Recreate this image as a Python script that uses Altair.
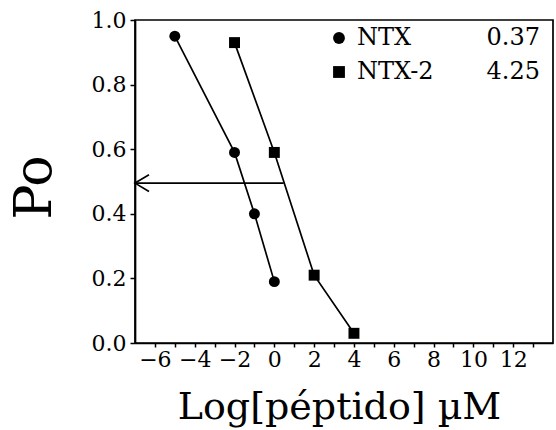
import altair as alt
import pandas as pd

# ---- data ----
ntx_x = [-5, -2, -1, 0]
ntx_po = [0.95, 0.59, 0.40, 0.19]
ntx2_x = [-2, 0, 2, 4]
ntx2_po = [0.93, 0.59, 0.21, 0.03]
series_names = ["NTX", "NTX-2"]
series_kd = ["0.37", "4.25"]
series_shapes = ["circle", "square"]
arrow_x = [0.47, -7]
arrow_po = [0.495, 0.495]
x_ticks = list(range(-6, 14))
y_ticks = [0.0, 0.2, 0.4, 0.6, 0.8, 1.0]

FONT = "DejaVu Serif"

df = pd.DataFrame({
    "x": ntx_x + ntx2_x,
    "po": ntx_po + ntx2_po,
    "series": [series_names[0]] * len(ntx_x) + [series_names[1]] * len(ntx2_x),
})
arrow_df = pd.DataFrame({"x": arrow_x, "po": arrow_po})
tip_df = arrow_df.iloc[[1]]

xscale = alt.Scale(domain=[-7, 14], nice=False, zero=False)
yscale = alt.Scale(domain=[0, 1], nice=False, zero=False)

x_axis = alt.Axis(
    values=x_ticks,
    format="d",
    labelExpr="datum.value % 2 === 0 ? datum.label : ''",
    labelOverlap=False,
    labelFlush=False,
    labelFont=FONT,
    labelFontSize=22,
    tickSize=4,
    labelPadding=2,
    title="Log[péptido] µM",
    titleFont=FONT,
    titleFontSize=38,
    titleFontWeight="normal",
    titleX=204,
    titleY=75,
    titleAlign="center",
    titleBaseline="alphabetic",
)
y_axis = alt.Axis(
    values=y_ticks,
    format=".1f",
    labelFont=FONT,
    labelFontSize=22,
    tickSize=5,
    labelPadding=4,
    title="Po",
    titleFont=FONT,
    titleFontSize=52,
    titleFontWeight="normal",
    titleAngle=270,
    titleX=-85,
    titleY=167,
    titleAlign="center",
    titleBaseline="alphabetic",
)

X = alt.X("x:Q", scale=xscale, axis=x_axis)
Y = alt.Y("po:Q", scale=yscale, axis=y_axis)

lines = alt.Chart(df).mark_line(color="black", strokeWidth=1.7).encode(
    x=X, y=Y, detail="series:N"
)
points = alt.Chart(df).mark_point(filled=True, color="black", size=120, opacity=1).encode(
    x=X, y=Y,
    shape=alt.Shape("series:N", scale=alt.Scale(domain=series_names, range=series_shapes), legend=None),
)
arrow_line = alt.Chart(arrow_df).mark_line(color="black", strokeWidth=1.7).encode(x=X, y=Y)
arrow_head = alt.Chart(tip_df).mark_point(
    shape="M1,-0.6L0,0L1,0.6", filled=False, stroke="black", strokeWidth=1.7, size=784, opacity=1
).encode(x=X, y=Y)

layers = [lines, arrow_line, arrow_head, points]

legend_df = pd.DataFrame({"name": series_names, "kd": series_kd, "shape": series_shapes})
for i, name in enumerate(series_names):
    row = legend_df.iloc[[i]]
    ypix = 18 + 34 * i
    layers.append(
        alt.Chart(row).mark_point(
            shape=series_shapes[i], filled=True, color="black", size=140, opacity=1
        ).encode(x=alt.value(204), y=alt.value(ypix))
    )
    layers.append(
        alt.Chart(row).mark_text(
            align="left", baseline="middle", font=FONT, fontSize=24, color="black"
        ).encode(x=alt.value(222), y=alt.value(ypix), text="name:N")
    )
    layers.append(
        alt.Chart(row).mark_text(
            align="right", baseline="middle", font=FONT, fontSize=24, color="black"
        ).encode(x=alt.value(405), y=alt.value(ypix), text="kd:N")
    )

chart = alt.layer(*layers).properties(
    width=418,
    height=323,
    autosize=alt.AutoSizeParams(type="none"),
    padding={"left": 135, "top": 20, "right": 3, "bottom": 87},
    background="white",
).configure_view(
    stroke="black", strokeWidth=1.7
).configure_axis(
    grid=False,
    domainColor="black",
    domainWidth=1.7,
    tickColor="black",
    tickWidth=1.5,
    labelColor="black",
    titleColor="black",
)

chart.save("out.html", embed_options={"renderer": "svg", "actions": False})
